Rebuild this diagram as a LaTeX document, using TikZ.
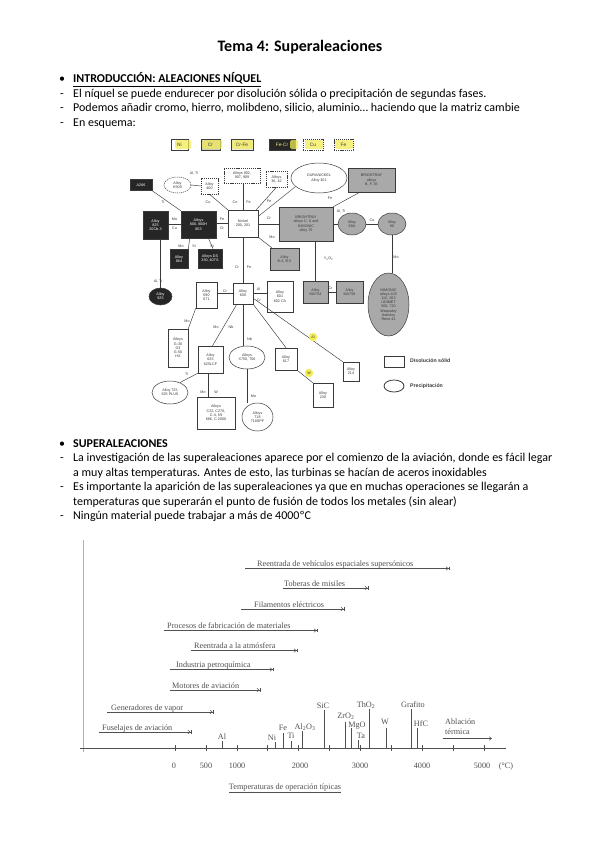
\documentclass[tikz,border=0pt]{standalone}
\usepackage{fontspec}
\setmainfont{Carlito}
\newfontfamily\chartfont{Liberation Serif}
\newfontfamily\dfont{Liberation Sans}
\usetikzlibrary{shapes.geometric,arrows.meta,calc}
\definecolor{dg}{HTML}{3A3A3A}
\definecolor{gfill}{HTML}{A9A9A9}
\definecolor{bfill}{HTML}{262626}
\definecolor{hl}{HTML}{F2EC55}
\definecolor{cg}{HTML}{505050}
\begin{document}
\begin{tikzpicture}[x=1pt,y=-1pt,
 sz/.style 2 args={minimum width=#1pt, minimum height=#2pt},
 nd/.style={draw=dg, line width=0.5pt, fill=white, inner sep=0pt, align=center, text=dg, font=\dfont\fontsize{3.7}{4.2}\selectfont},
 wb/.style={nd, rectangle},
 bb/.style={nd, rectangle, fill=bfill, text=white},
 gb/.style={nd, rectangle, fill=gfill},
 db/.style={nd, rectangle, dash pattern=on 1.2pt off 0.9pt},
 el/.style={nd, ellipse},
 lk/.style={draw=dg, line width=0.45pt},
 lab/.style={inner sep=0pt, text=dg, font=\dfont\fontsize{3.7}{4.2}\selectfont},
 lg/.style={inner sep=0pt, text=dg, font=\dfont\fontsize{4.8}{5}\selectfont},
 body/.style={anchor=base west, inner sep=0pt, font=\fontsize{12}{13}\selectfont},
 dashm/.style={anchor=base west, inner sep=0pt, font=\fontsize{12}{13}\selectfont},
 ch/.style={anchor=base west, inner sep=0pt, text=cg, font=\chartfont\fontsize{8.2}{9}\selectfont},
 chc/.style={anchor=base, inner sep=0pt, text=cg, font=\chartfont\fontsize{8.2}{9}\selectfont},
 ar/.style={draw=cg, line width=0.5pt, -{Straight Barb[length=2.2pt,width=3.6pt]Bar[width=3.6pt,line width=0.5pt]}},
 mbar/.style={draw=cg, line width=0.9pt},
]
\useasboundingbox (0,0) rectangle (599,848);
\fill[white] (0,0) rectangle (599,848);

% ---------------- text, first part
\node[anchor=base, inner sep=0pt, font=\bfseries\fontsize{16}{18}\selectfont] (title) at (300,52) {Tema 4: Superaleaciones};
\node[dashm] (b1) at (59,83) {•};
\node[body] (h1) at (73,83) {\textbf{\underline{INTRODUCCIÓN: ALEACIONES NÍQUEL}}};
\node[dashm] (d1) at (60,97.6) {-};
\node[body] (p1) at (73,97.6) {El níquel se puede endurecer por disolución sólida o precipitación de segundas fases.};
\node[dashm] (d2) at (60,112) {-};
\node[body] (p2) at (73,112) {Podemos añadir cromo, hierro, molibdeno, silicio, aluminio… haciendo que la matriz cambie};
\node[dashm] (d3) at (60,126.6) {-};
\node[body] (p3) at (73,126.6) {En esquema:};

% ---------------- legend of the scheme
\node[wb, sz={17}{11}, line width=0.8pt] (lNi) at (179.5,144.5) {};
\node[gb, sz={19}{11}, fill=gray!45] (lCr) at (210.5,144.5) {};
\node[gb, sz={22}{11}, fill=gray!18] (lCrFe) at (242,144.5) {};
\node[bb, sz={26}{11}] (lFeCr) at (282,144.5) {};
\node[db, sz={20}{11}] (lCu) at (313,144.5) {};
\node[db, sz={19}{11}] (lFe) at (343.5,144.5) {};
\fill[hl, opacity=0.75, rounded corners=1.5pt] (175,140) rectangle (191,149);
\fill[hl, opacity=0.75, rounded corners=1.5pt] (202,140) rectangle (222,149);
\fill[hl, opacity=0.75, rounded corners=1.5pt] (232,140) rectangle (253,149);
\fill[hl, opacity=0.75, rounded corners=1.5pt] (290,140) rectangle (298,149);
\fill[hl, opacity=0.75, rounded corners=1.5pt] (305,140) rectangle (323,149);
\fill[hl, opacity=0.75, rounded corners=1.5pt] (335,140) rectangle (353,149);
\node[lg] (lNiT) at (lNi) {Ni};
\node[lg] (lCrT) at (lCr) {Cr};
\node[lg] (lCrFeT) at (lCrFe) {Cr-Fe};
\node[lg, text=hl!70!white] (lFeCrT) at (lFeCr) {Fe-Cr};
\node[lg] (lCuT) at (lCu) {Cu};
\node[lg] (lFeT) at (lFe) {Fe};

% ---------------- scheme nodes
\node[bb, sz={22}{11}] (A286) at (141,185) {A286};
\node[el, sz={27}{16}, dash pattern=on 1.2pt off 0.9pt] (K500) at (177.5,185) {Alloy\\K500};
\node[db, sz={17}{16}] (A400) at (209.5,186) {Alloy\\400};
\node[db, sz={36}{15}] (A902) at (242,175.5) {Alloys 902,\\907, 909};
\node[db, sz={21}{16}] (A3642) at (276.5,179) {Alloys\\36, 42};
\node[el, sz={56}{30}] (Dura) at (319,178) {DURANICKEL\\Alloy 301};
\node[gb, sz={47}{24}] (BrBF) at (371.5,180) {BRIGHTRAY\\alloys\\B, F, 35};
\node[wb, sz={30}{27}] (Nickel) at (243,223.5) {Nickel\\200, 201};
\node[bb, sz={35}{27}] (A800) at (198.5,224.5) {Alloys\\800, 800H\\803};
\node[bb, sz={25}{28}] (A825) at (155.5,225) {Alloy\\825\\20Cb-3};
\node[bb, sz={18}{19}] (A864) at (179,259) {Alloy\\864};
\node[bb, sz={24}{19}] (ADS) at (210,258.5) {Alloys DS\\330, 40TS};
\node[gb, sz={54}{34}] (BrCS) at (306,224) {BRIGHTRAY\\alloys C, S and\\NIMONIC\\alloy 75};
\node[el, sz={28}{22}, fill=gfill] (A80A) at (352,224) {Alloy\\80A};
\node[el, sz={28}{22}, fill=gfill] (A90) at (392,224) {Alloy\\90};
\node[gb, sz={29}{22}] (B2B3) at (284.5,259) {Alloy\\B-2, B-3};
\node[gb, sz={25}{22}] (MA754) at (315.5,292) {Alloy\\MA754};
\node[gb, sz={27}{22}] (MA758) at (349.5,292) {Alloy\\MA758};
\node[el, sz={41}{63}, fill=gfill] (Nimo) at (388.5,304.5) {NIMONIC\\alloys 105\\115, 263\\UDIMET\\500, 720\\Waspaloy\\Astroloy\\Rene 41};
\node[el, sz={23}{17}, fill=bfill, text=white] (A925) at (160.5,296.5) {Alloy\\925};
\node[wb, sz={20}{21}] (A600) at (243,293.5) {Alloy\\600};
\node[wb, sz={21}{26}] (A690) at (206.5,295) {Alloy\\690\\671};
\node[wb, sz={26}{31}] (A601) at (280,296.5) {Alloy\\601\\602 CA};
\node[wb, sz={20}{38}] (G30) at (178,348) {Alloys\\G-30\\G3\\G-50\\HX};
\node[wb, sz={25}{27}] (A625) at (210.5,359.5) {Alloy\\625\\625LCF};
\node[el, sz={36}{23}] (X750) at (247,357.5) {Alloys\\X750, 706};
\node[wb, sz={22}{22}] (A617) at (286,359) {Alloy\\617};
\node[wb, sz={16}{19}] (A214) at (351,371.5) {Alloy\\214};
\node[wb, sz={20}{24}] (A230) at (323,395) {Alloy\\230};
\node[el, sz={36}{23}] (A725) at (170,392.5) {Alloy 725\\625 PLUS};
\node[wb, sz={38}{32}] (C22) at (216,413) {Alloys\\C22, C276,\\C-4, 59\\686, C-2000};
\node[el, sz={31}{28}] (A718) at (257.5,417) {Alloys\\718\\718SPF};

% legend of the scheme
\node[wb, sz={20}{11}, line width=0.8pt] (legBox) at (394,361.5) {};
\node[anchor=west, inner sep=0pt, text=dg, font=\dfont\bfseries\fontsize{5.2}{6}\selectfont] (legBoxT) at (410,361) {Disolución sólid};
\node[el, sz={20}{12}, line width=0.8pt] (legEl) at (394,386) {};
\node[anchor=west, inner sep=0pt, text=dg, font=\dfont\bfseries\fontsize{5.2}{6}\selectfont] (legElT) at (410,386) {Precipitación};

% ---------------- scheme connectors
\draw[lk] (A286.south east) -- (A800.north west);
\draw[lk] (K500.east) -- (A400.west);
\draw[lk] (A400.south) -- (Nickel.north west);
\draw[lk] (A902.south -| Nickel.north) -- (Nickel.north);
\draw[lk] (A3642.south) -- ($(Nickel.north east)+(-2,0)$);
\draw[lk] (Dura.200) -- (Nickel.25);
\draw[lk] ($(BrBF.south west)+(12,0)$) -- (BrCS.north east);
\draw[lk] (Nickel.east |- BrCS.west) -- (BrCS.west);
\draw[lk] (Nickel.south east) -- ($(B2B3.north west)+(2,0)$);
\draw[lk] (A800.east |- Nickel.west) -- (Nickel.west);
\draw[lk] (A825.east |- A800.west) -- (A800.west);
\draw[lk] ($(A800.south west)+(9,0)$) -- (A864.north east);
\draw[lk] ($(A800.south)+(10,0)$) -- ($(ADS.north)+(3,0)$);
\draw[lk] (BrCS.east) -- (A80A.west);
\draw[lk] (A80A.east) -- (A90.west);
\draw[lk] (MA754.north |- BrCS.south) -- (MA754.north);
\draw[lk] (MA754.east) -- (MA758.west);
\draw[lk] (A90.south) -- (A90.south |- Nimo.north);
\draw[lk] (A925.north |- A825.south) -- (A925.north);
\draw[lk] (Nickel.south) -- (A600.north);
\draw[lk] (A690.east |- A600.west) -- (A600.west);
\draw[lk] (A600.east) -- (A601.west |- A600.east);
\draw[lk] (A690.south west) -- (G30.north east);
\draw[lk] (A600.240) -- ($(A625.north)+(2,0)$);
\draw[lk] (A600.south) -- (A600.south |- X750.north);
\draw[lk] (A600.south east) -- (A617.north);
\draw[lk] (A600.-25) -- (A214.north west);
\draw[lk] (A617.south east) -- (A230.north west);
\draw[lk] (A625.south west) -- (A725.45);
\draw[lk] ($(A625.south)+(-2,0)$) -- ($(A625.south |- C22.north)+(-2,0)$);
\draw[lk] (X750.south) -- (X750.south |- A718.north);

% ---------------- connector labels
\node[lab] (t1) at (194,173) {Al, Ti};
\node[lab] (t2) at (163,202) {Ti};
\node[lab] (t3) at (208,202) {Cu};
\node[lab] (t4) at (235,202) {Co};
\node[lab] (t5) at (248.5,202) {Fe};
\node[lab] (t6) at (269,201) {Fe};
\node[lab] (t7) at (330,198) {Fe};
\node[lab] (t8) at (341,211) {Al, Ti};
\node[lab] (t9) at (372,220) {Co};
\node[lab] (t10) at (269,218) {Cr};
\node[lab] (t11) at (222,219.5) {Fe};
\node[lab] (t12) at (222,228.5) {Cr};
\node[lab] (t13) at (174.5,219.5) {Mo};
\node[lab] (t14) at (174.5,228.5) {Cu};
\node[lab] (t15) at (181,246) {Mo};
\node[lab] (t16) at (194,246) {Si};
\node[lab] (t17) at (212,246.5) {Si};
\node[lab] (t18) at (272,237) {Mo};
\node[lab] (t19) at (237,267) {Cr};
\node[lab] (t20) at (249,267) {Fe};
\node[lab] (t21) at (328.5,259) {Y\textsubscript{2}O\textsubscript{3}};
\node[lab] (t22) at (396,257) {Mo};
\node[lab] (t23) at (158,281) {Al, Ti};
\node[lab] (t24) at (225,291) {Cr};
\node[lab] (t25) at (330.5,288.5) {Cr};
\node[lab] (t26) at (258.5,289.5) {Al};
\node[lab] (t27) at (259,300.5) {Cr};
\node[lab] (t28) at (187,321) {Mo};
\node[lab] (t29) at (216,327) {Mo};
\node[lab] (t30) at (231,327) {Nb};
\node[lab] (t31) at (249.5,339) {Nb};
\fill[hl] (313,337) circle (4.2pt);
\fill[hl] (309,373) circle (4.2pt);
\node[lab] (t32) at (313,337) {Al};
\node[lab] (t33) at (309,373) {W};
\node[lab] (t34) at (186.5,374) {Ti};
\node[lab] (t35) at (203,392) {Mo};
\node[lab] (t36) at (216,392) {W};
\node[lab] (t37) at (253.5,396) {Mo};

% ---------------- text, second part
\node[dashm] (b2) at (59,447) {•};
\node[body] (h2) at (73,447) {\textbf{SUPERALEACIONES}};
\node[dashm] (d4) at (60,461.5) {-};
\node[body] (q1) at (73,461.5) {La investigación de las superaleaciones aparece por el comienzo de la aviación, donde es fácil legar};
\node[body] (q1b) at (73,476) {a muy altas temperaturas. Antes de esto, las turbinas se hacían de aceros inoxidables};
\node[dashm] (d5) at (60,490.5) {-};
\node[body] (q2) at (73,490.5) {Es importante la aparición de las superaleaciones ya que en muchas operaciones se llegarán a};
\node[body] (q2b) at (73,505) {temperaturas que superarán el punto de fusión de todos los metales (sin alear)};
\node[dashm] (d6) at (60,519.5) {-};
\node[body] (q3) at (73,519.5) {Ningún material puede trabajar a más de 4000ºC};

% ---------------- chart
\coordinate (vl1) at (83,540);
\coordinate (vl2) at (83,752);
\draw[gray!60, line width=0.5pt] (vl1) -- (vl2);

% application ranges
\coordinate (s1) at (245,568.5); \coordinate (e1) at (449,568.5);
\draw[ar] (s1) -- (e1);
\node[ch] (r1) at (257,566.5) {Reentrada de vehículos espaciales supersónicos};
\coordinate (s2) at (283,588); \coordinate (e2) at (368,588);
\draw[ar] (s2) -- (e2);
\node[ch] (r2) at (284,586) {Toberas de misiles};
\coordinate (s3) at (241,609); \coordinate (e3) at (344,609);
\draw[ar] (s3) -- (e3);
\node[ch] (r3) at (254,607) {Filamentos eléctricos};
\coordinate (s4) at (164,630.5); \coordinate (e4) at (317,630.5);
\draw[ar] (s4) -- (e4);
\node[ch] (r4) at (167,628.5) {Procesos de fabricación de materiales};
\coordinate (s5) at (191,650.5); \coordinate (e5) at (297,650.5);
\draw[ar] (s5) -- (e5);
\node[ch] (r5) at (194,648.5) {Reentrada a la atmósfera};
\coordinate (s6) at (170,669.5); \coordinate (e6) at (273,669.5);
\draw[ar] (s6) -- (e6);
\node[ch] (r6) at (176,667.5) {Industria petroquímica};
\coordinate (s7) at (170,690); \coordinate (e7) at (260,690);
\draw[ar] (s7) -- (e7);
\node[ch] (r7) at (172,688) {Motores de aviación};
\coordinate (s8) at (107,712); \coordinate (e8) at (213,712);
\draw[ar] (s8) -- (e8);
\node[ch] (r8) at (111,710) {Generadores de vapor};
\coordinate (s9) at (99,732); \coordinate (e9) at (191,732);
\draw[ar] (s9) -- (e9);
\node[ch] (r9) at (102,730) {Fuselajes de aviación};

% axis
\coordinate (ax1) at (80,748);
\coordinate (ax2) at (506,748);
\draw[cg, line width=0.6pt] (ax1) -- (ax2);
\foreach \k in {0,...,10} {
  \draw[cg, line width=0.5pt] (175+30.9*\k,745) -- (175+30.9*\k,751);
}
\node[chc] (n0) at (174,768) {0};
\node[chc] (n500) at (206,768) {500};
\node[chc] (n1000) at (237,768) {1000};
\node[chc] (n2000) at (300,768) {2000};
\node[chc] (n3000) at (360,768) {3000};
\node[chc] (n4000) at (422,768) {4000};
\node[chc] (n5000) at (482,768) {5000};
\node[chc] (nC) at (506,768) {(°C)};

% materials
\draw[mbar] (222,748) -- (222,741);   \node[chc] (mAl) at (222,739) {Al};
\draw[mbar] (275,748) -- (275,742);   \node[chc] (mNi) at (272,740) {Ni};
\draw[mbar] (283,748) -- (283,733);   \node[chc] (mFe) at (283,730.5) {Fe};
\draw[mbar] (291,748) -- (291,741);   \node[chc] (mTi) at (291,738.5) {Ti};
\draw[mbar] (302,748) -- (302,731);   \node[chc] (mAlO) at (305,729.5) {Al\textsubscript{2}O\textsubscript{3}};
\draw[mbar] (324,748) -- (324,710);   \node[chc] (mSiC) at (323,708) {SiC};
\draw[mbar] (345,748) -- (345,722);   \node[chc] (mZr) at (346,718.5) {ZrO\textsubscript{2}};
\draw[mbar] (351,748) -- (351,728);   \node[chc] (mMg) at (357,727) {MgO};
\draw[mbar] (358,748) -- (358,740);   \node[chc] (mTa) at (361,738) {Ta};
\draw[mbar] (369,748) -- (369,709);   \node[chc] (mTh) at (366,707) {ThO\textsubscript{2}};
\draw[mbar] (386,748) -- (386,728);   \node[chc] (mW) at (385,724.5) {W};
\draw[mbar] (411,748) -- (411,709);   \node[chc] (mGr) at (413,707) {Grafito};
\draw[mbar] (417,748) -- (417,728);   \node[chc] (mHf) at (421,726) {HfC};
\node[ch] (abl) at (445,724) {Ablación};
\node[ch] (ter) at (445,734) {térmica};
\coordinate (ab1) at (443,738.5); \coordinate (ab2) at (492,738.5);
\draw[cg, line width=0.5pt, -{Straight Barb[length=2.5pt,width=3.6pt]}] (ab1) -- (ab2);

\node[chc] (cap) at (285,789) {\underline{Temperaturas de operación típicas}};
\end{tikzpicture}
\end{document}
